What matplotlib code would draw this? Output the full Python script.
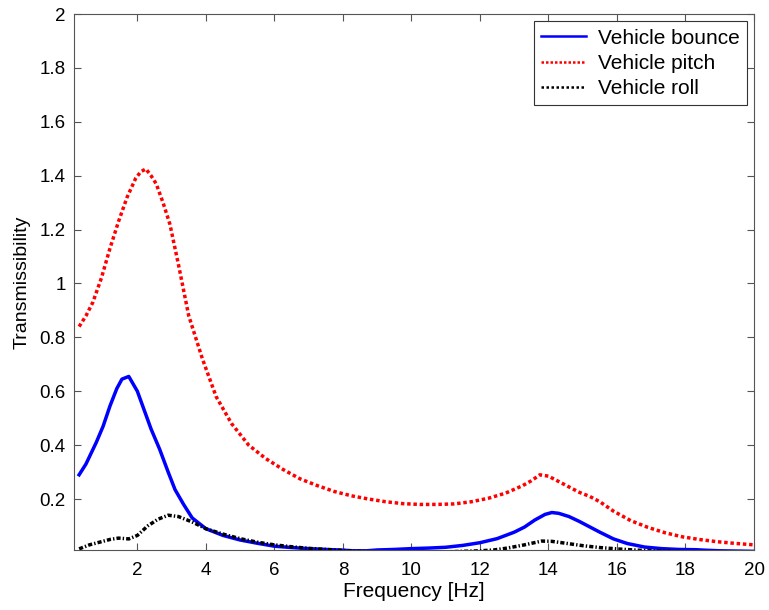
import numpy as np
import matplotlib
matplotlib.use("Agg")
import matplotlib.pyplot as plt
from matplotlib.ticker import FuncFormatter

plt.rcParams['font.family'] = ['Liberation Sans', 'DejaVu Sans']

# vehicle bounce
f_bounce = [0.3, 0.5, 0.8, 1.0, 1.2, 1.4, 1.55, 1.75, 2.0, 2.2, 2.4, 2.65, 2.9, 3.1, 3.35,
            3.6, 4.0, 4.5, 5.0, 5.5, 6.0, 6.5, 7.0, 7.5, 7.9, 8.3, 8.7, 9.0, 9.5, 10, 10.5,
            11, 11.5, 12, 12.5, 13, 13.3, 13.6, 13.9, 14.1, 14.3, 14.6, 14.9, 15.2, 15.5,
            15.9, 16.3, 16.8, 17.3, 17.8, 18.3, 18.6, 19.0, 20]
v_bounce = [0.29, 0.33, 0.41, 0.47, 0.545, 0.61, 0.645, 0.655, 0.60, 0.53, 0.46, 0.385,
            0.30, 0.235, 0.18, 0.13, 0.09, 0.065, 0.048, 0.036, 0.025, 0.02, 0.016, 0.013,
            0.011, 0.008, 0.008, 0.011, 0.013, 0.016, 0.018, 0.021, 0.028, 0.038, 0.053,
            0.077, 0.096, 0.122, 0.143, 0.15, 0.147, 0.135, 0.117, 0.097, 0.077, 0.052,
            0.035, 0.022, 0.016, 0.013, 0.012, 0.010, 0.008, 0.006]

# vehicle pitch
f_pitch = [0.3, 0.5, 0.7, 0.95, 1.2, 1.45, 1.7, 1.95, 2.1, 2.25, 2.4, 2.55, 2.75, 2.95,
           3.2, 3.5, 3.9, 4.3, 4.75, 5.25, 5.75, 6.25, 6.75, 7.25, 7.75, 8.25, 8.75, 9.25,
           9.75, 10.25, 10.75, 11.25, 11.75, 12.25, 12.75, 13.25, 13.5, 13.75, 14.0, 14.3,
           14.6, 14.9, 15.2, 15.5, 15.9, 16.4, 16.9, 17.4, 17.9, 18.4, 18.9, 19.4, 20]
v_pitch = [0.84, 0.88, 0.93, 1.02, 1.13, 1.23, 1.32, 1.39, 1.415, 1.425, 1.40, 1.37, 1.30,
           1.22, 1.07, 0.88, 0.72, 0.58, 0.48, 0.40, 0.35, 0.31, 0.275, 0.25, 0.228, 0.212,
           0.20, 0.19, 0.183, 0.18, 0.18, 0.182, 0.19, 0.203, 0.222, 0.25, 0.268, 0.29,
           0.285, 0.265, 0.245, 0.225, 0.21, 0.19, 0.155, 0.12, 0.095, 0.075, 0.06, 0.05,
           0.042, 0.036, 0.03]

# vehicle roll
f_roll = [0.3, 0.6, 0.9, 1.2, 1.45, 1.75, 2.0, 2.3, 2.6, 2.9, 3.2, 3.6, 4.0, 4.5, 5.0,
          5.5, 6.0, 6.5, 7.0, 7.5, 8.0, 8.5, 9.0, 10, 11, 12, 12.4, 12.8, 13.3, 13.8, 14.1,
          14.5, 15.0, 15.5, 16.0, 16.5, 17.0, 18, 19, 20]
v_roll = [0.015, 0.03, 0.04, 0.05, 0.055, 0.052, 0.065, 0.10, 0.125, 0.14, 0.135, 0.115,
          0.09, 0.07, 0.053, 0.04, 0.03, 0.023, 0.017, 0.013, 0.009, 0.006, 0.004, 0.003,
          0.004, 0.008, 0.011, 0.018, 0.03, 0.044, 0.043, 0.036, 0.027, 0.02, 0.015, 0.011,
          0.008, 0.005, 0.004, 0.003]

fig = plt.figure(figsize=(7.69, 6.10), dpi=100)
ax = fig.add_axes([0.0962, 0.0984, 0.8843, 0.8786])

ax.plot(f_bounce, v_bounce, color='#0000ff', lw=2.5, label='Vehicle bounce')
ax.plot(f_pitch, v_pitch, color='#ff0000', lw=2.5, ls=(0, (1, 0.8)), label='Vehicle pitch')
ax.plot(f_roll, v_roll, color='black', lw=2.5, ls=(0, (1.2, 0.6, 0.4, 0.6)), label='Vehicle roll')

ax.set_xlim(0.15, 20)
ax.set_ylim(0.011, 2)
ax.set_xticks(np.arange(2, 21, 2))
ax.set_yticks(np.arange(0.2, 2.01, 0.2))
ax.yaxis.set_major_formatter(FuncFormatter(lambda v, p: '%g' % round(v, 1)))
ax.tick_params(direction='in', top=True, right=True, labelsize=13.5, length=5,
               color='#555555')
ax.tick_params(axis='x', pad=9)
ax.tick_params(axis='y', pad=6)
for s in ax.spines.values():
    s.set_color('#555555')

ax.set_xlabel('Frequency [Hz]', fontsize=15, labelpad=2)
ax.set_ylabel('Transmissibility', fontsize=14, labelpad=6)

leg = ax.legend(loc='upper right', fontsize=15, fancybox=False, framealpha=1,
                edgecolor='#333333', handlelength=2.15, borderaxespad=0.35,
                borderpad=0.35, labelspacing=0.3, handletextpad=0.55)
leg.get_frame().set_linewidth(0.8)
for ln in leg.get_lines():
    ln.set_linewidth(1.8)
leg.get_lines()[2].set_linestyle((0, (1, 1)))

fig.savefig('out.png', dpi=100)
